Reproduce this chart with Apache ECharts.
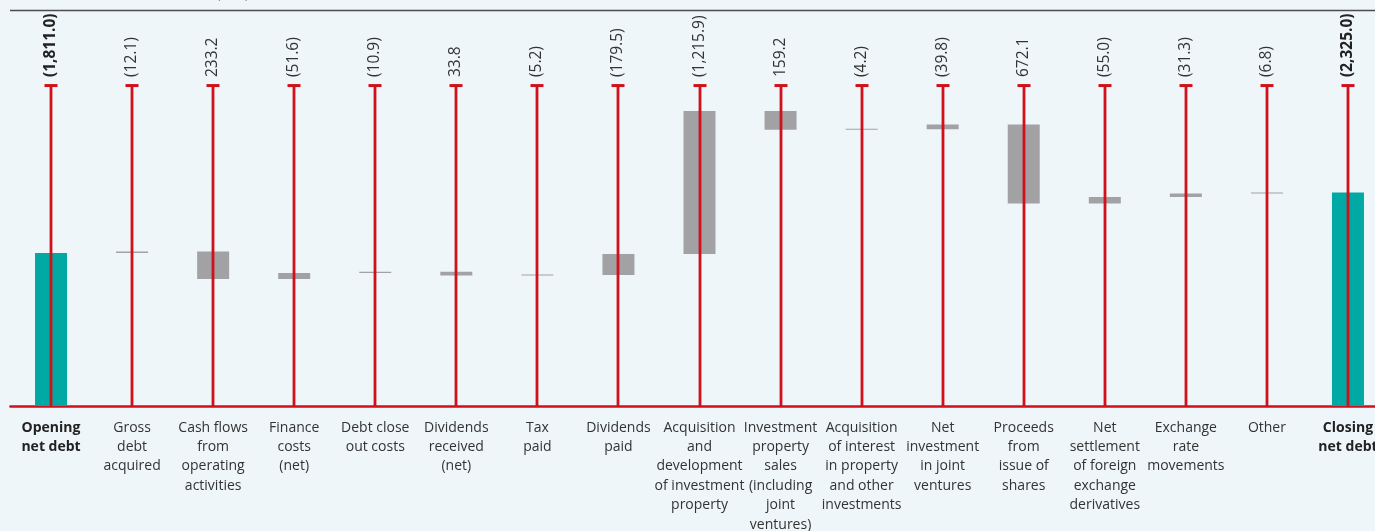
<!DOCTYPE html>
<html><head><meta charset="utf-8">
<script src="https://cdn.jsdelivr.net/npm/echarts@6/dist/echarts.min.js"></script>
<style>html,body{margin:0;padding:0;background:#eef6f9;} #c{width:1375px;height:531px;}</style>
</head><body><div id="c"></div>
<script>
// ---- data ----
const categories = [
  'Opening\nnet debt',
  'Gross\ndebt\nacquired',
  'Cash flows\nfrom\noperating\nactivities',
  'Finance\ncosts\n(net)',
  'Debt close\nout costs',
  'Dividends\nreceived\n(net)',
  'Tax\npaid',
  'Dividends\npaid',
  'Acquisition\nand\ndevelopment\nof investment\nproperty',
  'Investment\nproperty\nsales\n(including\njoint\nventures)',
  'Acquisition\nof interest\nin property\nand other\ninvestments',
  'Net\ninvestment\nin joint\nventures',
  'Proceeds\nfrom\nissue of\nshares',
  'Net\nsettlement\nof foreign\nexchange\nderivatives',
  'Exchange\nrate\nmovements',
  'Other',
  'Closing\nnet debt'
];
const valueLabels = ['(1,811.0)','(12.1)','233.2','(51.6)','(10.9)','33.8','(5.2)','(179.5)','(1,215.9)','159.2','(4.2)','(39.8)','672.1','(55.0)','(31.3)','(6.8)','(2,325.0)'];
const openingNetDebt = 1811.0;
const closingNetDebt = 2325.0;
// cash movements (negative = outflow, increases net debt)
const movements = [-12.1, 233.2, -51.6, -10.9, 33.8, -5.2, -179.5, -1215.9, 159.2, -4.2, -39.8, 672.1, -55.0, -31.3, -6.8];

// ---- derived waterfall stacks ----
const axisMin = 509, axisMax = 3879, capValue = 3236;
const baseData = ['-'], deltaData = ['-'], totalData = [openingNetDebt];
let debt = openingNetDebt;
movements.forEach(m => {
  const after = debt - m;
  const lo = Math.min(debt, after), hi = Math.max(debt, after);
  baseData.push(lo); deltaData.push(+(hi - lo).toFixed(1)); totalData.push('-');
  debt = after;
});
baseData.push('-'); deltaData.push('-'); totalData.push(closingNetDebt);

const FONT = '"Open Sans", "Noto Sans", sans-serif';
const RED = '#d0111b';
const chart = echarts.init(document.getElementById('c'), null, {renderer: 'canvas'});
chart.setOption({
  backgroundColor: '#eef6f9',
  animation: false,
  grid: {left: 10.5, right: -13.5, top: 10, bottom: 125, containLabel: false, outerBoundsMode: 'none'},
  xAxis: {
    type: 'category', data: categories,
    axisLine: {lineStyle: {color: RED, width: 2.6}},
    axisTick: {show: false},
    axisLabel: {
      interval: 0, margin: 12, fontSize: 14, lineHeight: 19.4, color: '#333', fontFamily: FONT,
      formatter: (v, i) => (i === 0 || i === categories.length - 1)
        ? v.split('\n').map(s => '{b|' + s + '}').join('\n') : v,
      rich: {b: {fontWeight: 'bold', fontSize: 14, lineHeight: 19.4, color: '#222', fontFamily: FONT}}
    }
  },
  yAxis: {type: 'value', min: axisMin, max: axisMax, show: false, splitLine: {show: false}},
  series: [
    {type: 'bar', stack: 'w', data: baseData, barWidth: 32, itemStyle: {color: 'transparent'}, silent: true},
    {type: 'bar', stack: 'w', data: deltaData, barWidth: 32, barMinHeight: 1, itemStyle: {color: '#a2a2a4'}},
    {type: 'bar', stack: 'w', data: totalData, barWidth: 32, itemStyle: {color: '#00a9a4'}},
    {
      type: 'custom', z: 10,
      data: categories.map((c, i) => [i, capValue]),
      encode: {x: 0, y: 1},
      renderItem: (params, api) => {
        const i = api.value(0);
        const bottom = api.coord([i, axisMin]);
        const top = api.coord([i, api.value(1)]);
        const x = Math.round(bottom[0]) ;
        const bold = (i === 0 || i === categories.length - 1);
        return {type: 'group', children: [
          {type: 'line', shape: {x1: x, y1: top[1], x2: x, y2: bottom[1]}, style: {stroke: RED, lineWidth: 2.8}},
          {type: 'line', shape: {x1: x - 6.5, y1: top[1], x2: x + 6.5, y2: top[1]}, style: {stroke: RED, lineWidth: 3}},
          {type: 'text', x: x, y: top[1] - 8.5, rotation: Math.PI / 2,
            style: {text: valueLabels[i], align: 'left', verticalAlign: 'middle', fontSize: 15.5,
              fontWeight: bold ? 'bold' : 'normal', fontFamily: FONT, fill: bold ? '#222' : '#333'}}
        ]};
      }
    }
  ],
  graphic: [
    {type: 'line', shape: {x1: 10, y1: 10.5, x2: 1375, y2: 10.5}, style: {stroke: '#4d4d4d', lineWidth: 1.3}},
    {type: 'text', x: 216, y: 1, style: {text: '(£m)', align: 'left', verticalAlign: 'bottom', fontSize: 16, fontFamily: FONT, fill: '#333'}}
  ]
});
</script></body></html>
